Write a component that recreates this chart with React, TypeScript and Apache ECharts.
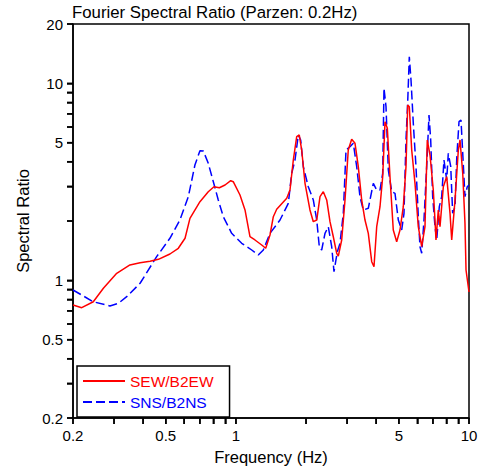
import React, { useEffect, useRef } from "react";
import * as echarts from "echarts";

const title = "Fourier Spectral Ratio (Parzen: 0.2Hz)";
const xName = "Frequency (Hz)";
const yName = "Spectral Ratio";
const seriesNames = ["SEW/B2EW", "SNS/B2NS"];

const xTickValues = [0.2, 0.3, 0.4, 0.5, 0.6, 0.7, 0.8, 0.9, 1, 2, 3, 4, 5, 6, 7, 8, 9, 10];
const xLabelValues = [0.2, 0.5, 1, 5, 10];
const yTickValues = [0.2, 0.3, 0.4, 0.5, 0.6, 0.7, 0.8, 0.9, 1, 2, 3, 4, 5, 6, 7, 8, 9, 10, 20];
const yLabelValues = [0.2, 0.5, 1, 5, 10, 20];
const xMin = 0.2;
const xMax = 10;
const yMin = 0.2;
const yMax = 20;

const freqSEW = [
  0.2, 0.218, 0.2444, 0.27, 0.308, 0.351, 0.388, 0.428, 0.465, 0.521, 0.566, 0.605, 0.635, 0.701, 0.761,
  0.805, 0.849, 0.898, 0.95, 0.974, 1.041, 1.094, 1.149, 1.207, 1.29, 1.342, 1.4, 1.447, 1.496, 1.652,
  1.706, 1.763, 1.823, 1.87, 1.915, 1.979, 2.078, 2.148, 2.222, 2.295, 2.371, 2.452, 2.533, 2.617, 2.707,
  2.75, 2.843, 2.938, 3.034, 3.138, 3.243, 3.35, 3.464, 3.579, 3.698, 3.825, 3.912, 4.018, 4.151, 4.263,
  4.362, 4.463, 4.581, 4.733, 4.895, 5.058, 5.225, 5.366, 5.458, 5.545, 5.678, 5.865, 6.06, 6.267, 6.474,
  6.623, 6.803, 7.027, 7.146, 7.217, 7.384, 7.509, 7.76, 8.023, 8.29, 8.43, 8.71, 9.0, 9.15, 9.4, 9.61,
  9.71, 10,
];
const valSEW = [
  0.749, 0.726, 0.778, 0.911, 1.085, 1.196, 1.228, 1.248, 1.278, 1.36, 1.454, 1.634, 2.064, 2.506, 2.817,
  2.985, 2.951, 3.046, 3.203, 3.166, 2.71, 2.275, 1.664, 1.602, 1.511, 1.454, 1.698, 2.103, 2.293, 2.608,
  2.873, 4.08, 5.357, 5.465, 4.585, 3.107, 2.275, 1.984, 2.023, 2.657, 2.817, 2.557, 1.984, 1.664, 1.371,
  1.328, 1.602, 2.557, 4.585, 5.197, 4.96, 3.773, 2.557, 2.023, 1.732, 1.243, 1.172, 1.871, 2.364, 3.357,
  6.386, 5.909, 3.357, 1.8, 1.57, 1.8, 2.364, 3.773, 7.761, 7.608, 4.585, 3.107, 1.871, 1.481, 1.871,
  5.155, 4.325, 2.873, 2.023, 1.602, 2.275, 1.871, 2.985, 3.357, 2.188, 1.602, 2.557, 4.585, 5.155, 3.493, 1.947,
  1.128, 0.872,
];

const freqSNS = [
  0.2, 0.2444, 0.288, 0.313, 0.34, 0.388, 0.457, 0.521, 0.575, 0.625, 0.667, 0.701, 0.725, 0.761, 0.8,
  0.84, 0.883, 0.959, 1.059, 1.169, 1.247, 1.311, 1.4, 1.546, 1.678, 1.735, 1.793, 1.852, 1.896, 1.946,
  2.044, 2.148, 2.222, 2.279, 2.333, 2.411, 2.491, 2.576, 2.635, 2.723, 2.796, 2.889, 2.967, 3.086, 3.189,
  3.298, 3.406, 3.52, 3.698, 3.886, 4.018, 4.151, 4.263, 4.318, 4.405, 4.507, 4.661, 4.814, 4.974, 5.143,
  5.261, 5.366, 5.458, 5.545, 5.639, 5.768, 5.924, 6.06, 6.163, 6.267, 6.41, 6.583, 6.736, 6.85, 6.985,
  7.146, 7.267, 7.457, 7.636, 7.81, 8.023, 8.15, 8.35, 8.51, 8.71, 8.86, 9.06, 9.24, 9.4, 9.61, 9.83, 10,
];
const valSNS = [
  0.893, 0.778, 0.741, 0.764, 0.826, 0.966, 1.318, 1.634, 2.023, 2.657, 3.849, 4.548, 4.53, 3.926, 3.166,
  2.557, 2.103, 1.732, 1.541, 1.425, 1.344, 1.425, 1.732, 2.023, 2.459, 3.493, 4.08, 5.465, 5.155, 3.773,
  2.985, 2.557, 2.023, 1.481, 1.425, 1.732, 1.871, 1.481, 1.106, 1.397, 1.541, 2.188, 4.585, 4.765, 4.96,
  3.773, 2.657, 2.275, 2.32, 3.107, 2.873, 2.873, 3.493, 9.43, 7.608, 3.63, 2.817, 2.764, 2.023, 1.8,
  2.188, 5.155, 8.067, 13.65, 10.39, 6.266, 3.773, 2.103, 1.481, 1.371, 2.023, 3.773, 6.9, 5.155, 2.657,
  1.871, 1.602, 2.364, 2.657, 4.08, 3.23, 4.41, 3.773, 2.188, 2.364, 4.163, 6.386, 6.51, 4.41, 2.657, 2.985, 3.046,
];

const lg = (v: number) => Math.log10(v);
const fmt = (v: number) => String(Number(Math.pow(10, v).toPrecision(3)));
const FONT = "'Liberation Sans', Arial, sans-serif";

export default function App() {
  const ref = useRef<HTMLDivElement>(null);
  useEffect(() => {
    if (!ref.current) return;
    const chart = echarts.init(ref.current, null, { renderer: "svg" });
    const axisCommon = {
      type: "value" as const,
      splitLine: { show: false },
      axisLine: { show: true, onZero: false, lineStyle: { color: "#000", width: 1.5 } },
      axisLabel: {
        color: "#000",
        fontSize: 15,
        fontFamily: FONT,
        margin: 10,
        formatter: (v: number) => fmt(v),
      },
      nameTextStyle: { color: "#000", fontSize: 16.5, fontFamily: FONT },
    };
    const tickStyle = { stroke: "#000", lineWidth: 1.5 };
    chart.setOption({
      animation: false,
      backgroundColor: "#fff",
      title: {
        text: title,
        left: 72,
        top: 4,
        padding: 0,
        textStyle: { color: "#000", fontSize: 16.8, fontWeight: "normal", fontFamily: FONT },
      },
      grid: {
        left: 73,
        right: 13,
        top: 24,
        bottom: 52,
        show: true,
        borderColor: "#000",
        borderWidth: 1.5,
        backgroundColor: "transparent",
      },
      legend: {
        orient: "vertical",
        left: 77,
        top: 366,
        padding: [7, 16, 7, 5],
        itemWidth: 42,
        itemHeight: 14,
        itemGap: 5,
        backgroundColor: "#fff",
        borderColor: "#000",
        borderWidth: 1.5,
        borderRadius: 0,
        itemStyle: { opacity: 0 },
        textStyle: { fontSize: 15.5, fontFamily: FONT },
        data: [
          { name: seriesNames[0], textStyle: { color: "#ff0000" } },
          { name: seriesNames[1], textStyle: { color: "#0000ff" } },
        ],
      },
      xAxis: {
        ...axisCommon,
        min: lg(xMin),
        max: lg(xMax),
        name: xName,
        nameLocation: "middle",
        nameGap: 30,
        axisTick: {
          show: true,
          inside: false,
          length: 6,
          customValues: xTickValues.map(lg),
          lineStyle: { color: "#000", width: 1.5 },
        },
        axisLabel: { ...axisCommon.axisLabel, customValues: xLabelValues.map(lg) },
      },
      yAxis: {
        ...axisCommon,
        min: lg(yMin),
        max: lg(yMax),
        name: yName,
        nameLocation: "middle",
        nameGap: 42,
        axisTick: {
          show: true,
          inside: false,
          length: 6,
          customValues: yTickValues.map(lg),
          lineStyle: { color: "#000", width: 1.5 },
        },
        axisLabel: { ...axisCommon.axisLabel, customValues: yLabelValues.map(lg) },
      },
      series: [
        {
          name: "xticks",
          type: "custom",
          silent: true,
          clip: false,
          z: 10,
          data: xTickValues.map((v) => [lg(v), lg(yMin)]),
          renderItem: (params: any, api: any) => {
            const p = api.coord([api.value(0), api.value(1)]);
            return {
              type: "line",
              shape: { x1: p[0], y1: p[1], x2: p[0], y2: p[1] + 6 },
              style: tickStyle,
            };
          },
        },
        {
          name: "yticks",
          type: "custom",
          silent: true,
          clip: false,
          z: 10,
          data: yTickValues.map((v) => [lg(xMin), lg(v)]),
          renderItem: (params: any, api: any) => {
            const p = api.coord([api.value(0), api.value(1)]);
            return {
              type: "line",
              shape: { x1: p[0] - 6, y1: p[1], x2: p[0], y2: p[1] },
              style: tickStyle,
            };
          },
        },
        {
          name: seriesNames[0],
          type: "line",
          symbol: "none",
          data: freqSEW.map((f, i) => [lg(f), lg(valSEW[i])]),
          lineStyle: { color: "#ff0000", width: 1.5 },
          itemStyle: { color: "#ff0000" },
          z: 3,
        },
        {
          name: seriesNames[1],
          type: "line",
          symbol: "none",
          data: freqSNS.map((f, i) => [lg(f), lg(valSNS[i])]),
          lineStyle: { color: "#0000ff", width: 1.5, type: [9, 4] },
          itemStyle: { color: "#0000ff" },
          z: 2,
        },
      ],
    });
    return () => chart.dispose();
  }, []);
  return (
    <div
      ref={ref}
      style={{ position: "fixed", left: 0, top: 0, width: 482, height: 470, background: "#fff" }}
    />
  );
}
